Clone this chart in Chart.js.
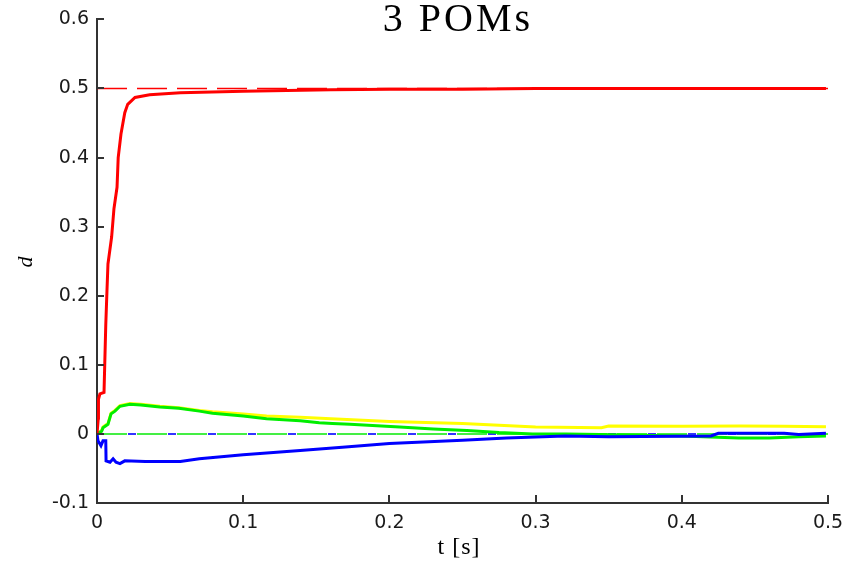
<!DOCTYPE html>
<html>
<head>
<meta charset="utf-8">
<script src="https://cdn.jsdelivr.net/npm/chart.js@4/dist/chart.umd.min.js"></script>
<style>
html,body{margin:0;padding:0;background:#fff;}
#wrap{width:860px;height:563px;}
</style>
</head>
<body>
<div id="wrap"><canvas id="c" width="860" height="563"></canvas></div>
<script>
const chartTitle = '3 POMs';
const xTitle = 't [s]';
const yTitle = 'd';
const xTickLabels = ['0', '0.1', '0.2', '0.3', '0.4', '0.5'];
const yTickLabels = ['-0.1', '0', '0.1', '0.2', '0.3', '0.4', '0.5', '0.6'];

const redT = [0, 0.0009, 0.001, 0.002, 0.0048, 0.006, 0.0068, 0.0075, 0.01, 0.0116, 0.0137, 0.0145, 0.0164, 0.019, 0.021, 0.026, 0.036, 0.057, 0.1, 0.13, 0.16, 0.2, 0.25, 0.3, 0.35, 0.4, 0.45, 0.4986];
const redD = [0, 0.023, 0.05, 0.058, 0.06, 0.158, 0.206, 0.246, 0.285, 0.326, 0.357, 0.40, 0.434, 0.465, 0.477, 0.487, 0.491, 0.494, 0.496, 0.497, 0.498, 0.499, 0.499, 0.5, 0.5, 0.5, 0.5, 0.5];

const greenT = [0, 0.0032, 0.0041, 0.0075, 0.0096, 0.0123, 0.0157, 0.0225, 0.03, 0.043, 0.056, 0.07, 0.079, 0.1, 0.116, 0.139, 0.152, 0.161, 0.173, 0.207, 0.23, 0.253, 0.275, 0.298, 0.321, 0.344, 0.4, 0.439, 0.46, 0.48, 0.4986];
const greenD = [0, 0.004, 0.009, 0.014, 0.029, 0.033, 0.040, 0.043, 0.042, 0.039, 0.037, 0.033, 0.030, 0.026, 0.022, 0.019, 0.016, 0.015, 0.014, 0.010, 0.007, 0.005, 0.002, 0.000, 0.000, -0.001, -0.003, -0.006, -0.006, -0.004, -0.003];

const yellowT = [0, 0.0032, 0.0041, 0.0075, 0.0096, 0.0123, 0.0157, 0.0225, 0.03, 0.043, 0.056, 0.07, 0.079, 0.1, 0.116, 0.139, 0.16, 0.2, 0.25, 0.3, 0.345, 0.35, 0.4, 0.44, 0.47, 0.4986];
const yellowD = [0, 0.005, 0.010, 0.015, 0.030, 0.034, 0.041, 0.044, 0.043, 0.040, 0.038, 0.034, 0.032, 0.029, 0.026, 0.024, 0.022, 0.018, 0.015, 0.010, 0.009, 0.0115, 0.011, 0.0115, 0.011, 0.0105];

const blueT = [0, 0.0007, 0.0027, 0.0041, 0.006, 0.0062, 0.0089, 0.011, 0.0130, 0.0157, 0.019, 0.033, 0.057, 0.07, 0.1, 0.139, 0.17, 0.2, 0.25, 0.28, 0.32, 0.35, 0.42, 0.425, 0.47, 0.48, 0.4986];
const blueD = [0, -0.010, -0.017, -0.010, -0.010, -0.039, -0.041, -0.036, -0.041, -0.043, -0.039, -0.040, -0.040, -0.036, -0.030, -0.024, -0.019, -0.014, -0.009, -0.006, -0.003, -0.004, -0.003, 0.001, 0.001, -0.001, 0.001];

const refT = [0, 0.5];
const refRed = [0.5, 0.5];
const refZero = [0, 0];

const pts = (t, d) => t.map((v, i) => ({x: v, y: d[i]}));

const innerTicks = {
  id: 'innerTicks',
  afterDraw(chart) {
    const ctx = chart.ctx;
    const a = chart.chartArea;
    const xs = chart.scales.x, ys = chart.scales.y;
    ctx.save();
    ctx.strokeStyle = '#333';
    ctx.lineWidth = 2;
    ctx.beginPath();
    xs.ticks.forEach((t, i) => {
      const px = Math.round(xs.getPixelForTick(i));
      ctx.moveTo(px, a.bottom);
      ctx.lineTo(px, a.bottom - 8);
    });
    ys.ticks.forEach((t, i) => {
      const py = Math.round(ys.getPixelForTick(i));
      ctx.moveTo(a.left, py);
      ctx.lineTo(a.left + 7, py);
    });
    ctx.stroke();
    ctx.fillStyle = '#000';
    ctx.textAlign = 'center';
    ctx.textBaseline = 'alphabetic';
    ctx.font = '40px "Liberation Serif", serif';
    ctx.letterSpacing = '3px';
    ctx.fillText(chartTitle, 458, 31);
    ctx.font = '24px "Liberation Serif", serif';
    ctx.letterSpacing = '1px';
    ctx.fillText(xTitle, 459, 554);
    ctx.letterSpacing = '0px';
    ctx.translate(32, 262);
    ctx.rotate(-Math.PI / 2);
    ctx.font = 'italic 22px "Liberation Serif", serif';
    ctx.fillText(yTitle, 0, 0);
    ctx.restore();
  }
};

new Chart(document.getElementById('c'), {
  type: 'line',
  data: {
    datasets: [
      {data: pts(redT, redD), borderColor: '#ff0000', borderWidth: 3, order: 1},
      {data: pts(blueT, blueD), borderColor: '#0000ff', borderWidth: 3, order: 2},
      {data: pts(greenT, greenD), borderColor: '#00ee00', borderWidth: 3, order: 3},
      {data: pts(yellowT, yellowD), borderColor: '#ffff00', borderWidth: 3, order: 4},
      {data: pts(refT, refRed), borderColor: '#ff0000', borderWidth: 1.5, borderDash: [30, 10], order: 5},
      {data: pts(refT, refZero), borderColor: '#44ee44', borderWidth: 2, borderDash: [30, 10], order: 6},
      {data: pts(refT, refZero), borderColor: '#3333ff', borderWidth: 2, borderDash: [8, 32], borderDashOffset: 9, order: 7}
    ]
  },
  options: {
    responsive: false,
    animation: false,
    devicePixelRatio: 1,
    layout: {padding: {top: 18, right: 32, left: 0, bottom: 0}},
    elements: {point: {radius: 0}, line: {tension: 0, borderJoinStyle: 'miter'}},
    plugins: {legend: {display: false}, tooltip: {enabled: false}, title: {display: false}},
    scales: {
      x: {
        type: 'linear', min: 0, max: 0.5,
        afterFit(s) { s.height = 60; },
        grid: {display: false, drawTicks: false},
        border: {display: true, color: '#333', width: 2},
        ticks: {stepSize: 0.1, padding: 9, color: '#1a1a1a', maxRotation: 0,
          font: {family: '"DejaVu Sans", sans-serif', size: 19},
          callback: (v, i) => xTickLabels[i]}
      },
      y: {
        type: 'linear', min: -0.1, max: 0.6,
        afterFit(s) { s.width = 97; },
        grid: {display: false, drawTicks: false},
        border: {display: true, color: '#333', width: 2},
        ticks: {stepSize: 0.1, padding: 8, color: '#1a1a1a',
          font: {family: '"DejaVu Sans", sans-serif', size: 19},
          callback: (v, i) => yTickLabels[i]}
      }
    }
  },
  plugins: [innerTicks]
});
</script>
</body>
</html>
